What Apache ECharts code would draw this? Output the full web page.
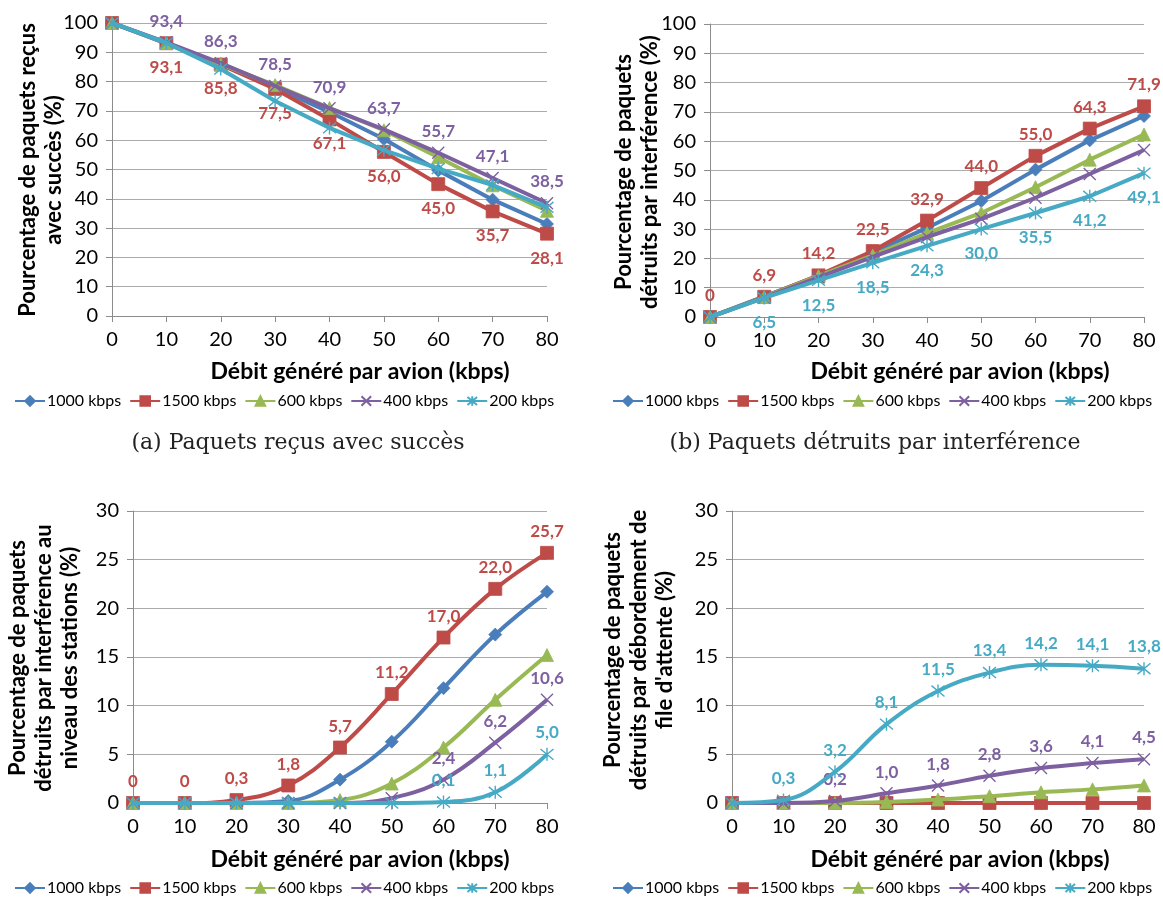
<!DOCTYPE html>
<html><head><meta charset="utf-8">
<script src="https://cdn.jsdelivr.net/npm/echarts@6/dist/echarts.min.js"></script>
<style>html,body{margin:0;padding:0;background:#fff}#c{width:1163px;height:900px}</style>
</head><body><div id="c"></div>
<script>
// ---- data ----
const xValues = [0, 10, 20, 30, 40, 50, 60, 70, 80];
const seriesNames = ['1000 kbps', '1500 kbps', '600 kbps', '400 kbps', '200 kbps'];

// (a) Paquets reçus avec succès (%)
const recu1000 = [100, 93.0, 86.0, 78.0, 69.6, 60.4, 49.7, 39.7, 31.4];
const recu1500 = [100, 93.1, 85.8, 77.5, 67.1, 56.0, 45.0, 35.7, 28.1];
const recu600  = [100, 93.2, 86.0, 78.8, 71.0, 63.4, 54.2, 44.6, 35.9];
const recu400  = [100, 93.4, 86.3, 78.5, 70.9, 63.7, 55.7, 47.1, 38.5];
const recu200  = [100, 93.2, 84.3, 73.4, 64.2, 56.6, 50.3, 44.7, 37.1];

// (b) Paquets détruits par interférence (%)
const interf1000 = [0, 7.0, 14.0, 22.0, 30.4, 39.6, 50.3, 60.3, 68.6];
const interf1500 = [0, 6.9, 14.2, 22.5, 32.9, 44.0, 55.0, 64.3, 71.9];
const interf600  = [0, 6.8, 14.0, 21.0, 28.6, 35.5, 44.3, 53.7, 62.3];
const interf400  = [0, 6.6, 13.5, 20.5, 27.3, 33.5, 40.7, 48.8, 57.0];
const interf200  = [0, 6.5, 12.5, 18.5, 24.3, 30.0, 35.5, 41.2, 49.1];

// (c) Paquets détruits par interférence au niveau des stations (%)
const stat1000 = [0, 0, 0, 0.2, 2.4, 6.3, 11.8, 17.3, 21.7];
const stat1500 = [0, 0, 0.3, 1.8, 5.7, 11.2, 17.0, 22.0, 25.7];
const stat600  = [0, 0, 0, 0, 0.3, 2.0, 5.7, 10.6, 15.2];
const stat400  = [0, 0, 0, 0, 0, 0.5, 2.4, 6.2, 10.6];
const stat200  = [0, 0, 0, 0, 0, 0, 0.1, 1.1, 5.0];

// (d) Paquets détruits par débordement de file d'attente (%)
const file1000 = [0, 0, 0, 0, 0, 0, 0, 0, 0];
const file1500 = [0, 0, 0, 0, 0, 0, 0, 0, 0];
const file600  = [0, 0, 0, 0.1, 0.35, 0.7, 1.1, 1.4, 1.8];
const file400  = [0, 0, 0.2, 1.0, 1.8, 2.8, 3.6, 4.1, 4.5];
const file200  = [0, 0.3, 3.2, 8.1, 11.5, 13.4, 14.2, 14.1, 13.8];

const xTitle = 'Débit généré par avion (kbps)';
const yTitles = [
  'Pourcentage de paquets reçus\navec succès (%)',
  'Pourcentage de paquets\ndétruits par interférence (%)',
  'Pourcentage de paquets\ndétruits par interférence au\nniveau des stations (%)',
  'Pourcentage de paquets\ndétruits par débordement de\nfile d\'attente (%)'
];
const captions = ['(a) Paquets reçus avec succès', '(b) Paquets détruits par interférence'];

// ---- styling ----
const FONT = 'Lato';
const colors = ['#4A7EBB', '#BE4B48', '#98B954', '#7D60A0', '#46AAC5'];
const labelColors = ['#4A7EBB', '#BE4B48', '#98B954', '#7D60A0', '#46AAC5'];
const symbols = ['diamond', 'rect', 'triangle',
  'path://M0,0L10,10M10,0L0,10',
  'path://M0,0L10,10M10,0L0,10M5,-1L5,11'];
const symbolSizes = [13, 13, 13, 12, 13];

const grids = [
  {left: 112, top: 23, width: 435, height: 293},
  {left: 710, top: 24, width: 434, height: 293},
  {left: 133, top: 511, width: 414, height: 292},
  {left: 732, top: 511, width: 412, height: 292}
];
const yMax = [100, 100, 30, 30];
const yInt = [10, 10, 5, 5];
const smooth = [false, false, true, true];

const datasets = [
  [recu1000, recu1500, recu600, recu400, recu200],
  [interf1000, interf1500, interf600, interf400, interf200],
  [stat1000, stat1500, stat600, stat400, stat200],
  [file1000, file1500, file600, file400, file200]
];
// label config: [chart][series] -> {pos, from}
const labelCfg = [
  {1: {pos: 'bottom', from: 1}, 3: {pos: 'top', from: 1}},
  {1: {pos: 'top', from: 0}, 4: {pos: 'bottom', from: 1}},
  {1: {pos: 'top', from: 0}, 3: {pos: 'top', from: 6}, 4: {pos: 'top', from: 6}},
  {4: {pos: 'top', from: 1}, 3: {pos: 'top', from: 2}}
];

function fmt(v) { return v === 0 ? '0' : v.toFixed(1).replace('.', ','); }

const series = [];
datasets.forEach((sets, g) => {
  sets.forEach((vals, s) => {
    const lc = labelCfg[g][s];
    const isPath = s >= 3;
    series.push({
      type: 'line', name: seriesNames[s], xAxisIndex: g, yAxisIndex: g,
      data: xValues.map((x, i) => [x, vals[i]]),
      smooth: smooth[g] ? 0.4 : false,
      symbol: symbols[s], symbolSize: symbolSizes[s], showAllSymbol: true,
      lineStyle: {color: colors[s], width: 4},
      itemStyle: isPath ? {color: colors[s], borderColor: colors[s], borderWidth: 1.4}
                        : {color: colors[s], borderColor: colors[s], borderWidth: 0.8},
      label: lc ? {
        show: true, position: lc.pos, distance: lc.pos === 'top' ? 6 : 9,
        color: labelColors[s], fontFamily: FONT, fontWeight: 'bold', fontSize: 17,
        formatter: p => p.dataIndex >= lc.from ? fmt(p.value[1]) : ''
      } : {show: false},
      emphasis: {disabled: true},
      z: 2 + s
    });
  });
});

const xAxes = grids.map((g, i) => ({
  type: 'value', gridIndex: i, min: 0, max: 80, interval: 10,
  axisLine: {show: true, lineStyle: {color: '#8C8C8C', width: 1}},
  axisTick: {show: true, length: 6, lineStyle: {color: '#8C8C8C'}},
  splitLine: {show: false},
  axisLabel: {color: '#000', fontFamily: FONT, fontSize: 20, margin: 14}
}));
const yAxes = grids.map((g, i) => ({
  type: 'value', gridIndex: i, min: 0, max: yMax[i], interval: yInt[i],
  axisLine: {show: true, lineStyle: {color: '#8C8C8C', width: 1}},
  axisTick: {show: true, length: 6, lineStyle: {color: '#8C8C8C'}},
  splitLine: {show: true, lineStyle: {color: '#ABABAB', width: 1}},
  axisLabel: {color: '#000', fontFamily: FONT, fontSize: 20, margin: 14}
}));

const legendPos = [
  {left: 14, top: 393}, {left: 612, top: 393},
  {left: 14, top: 880}, {left: 612, top: 880}
];
const legends = legendPos.map(p => ({
  left: p.left, top: p.top, data: seriesNames, itemWidth: 30, itemHeight: 12,
  itemGap: 8, textStyle: {fontFamily: FONT, fontSize: 16, color: '#000', padding: [0, 0, 0, -3]}, padding: 0
}));

const yTitlePos = [[41, 170], [637, 172], [44, 658], [639, 650]];
const xTitlePos = [[360, 372], [960, 372], [360, 860], [960, 860]];
const captionPos = [[298, 443], [875, 443]];
const graphic = [];
yTitles.forEach((t, i) => graphic.push({
  type: 'text', x: yTitlePos[i][0], y: yTitlePos[i][1], rotation: Math.PI / 2,
  style: {text: t, font: 'bold 22px ' + FONT, fill: '#000', align: 'center', verticalAlign: 'middle', lineHeight: 26}
}));
xTitlePos.forEach(p => graphic.push({
  type: 'text', x: p[0], y: p[1],
  style: {text: xTitle, font: 'bold 23px ' + FONT, fill: '#000', align: 'center', verticalAlign: 'middle'}
}));
captions.forEach((t, i) => graphic.push({
  type: 'text', x: captionPos[i][0], y: captionPos[i][1],
  style: {text: t, font: '22px "DejaVu Serif"', fill: '#222', align: 'center', verticalAlign: 'middle'}
}));

const chart = echarts.init(document.getElementById('c'));
chart.setOption({
  animation: false,
  backgroundColor: '#fff',
  grid: grids,
  xAxis: xAxes, yAxis: yAxes,
  legend: legends,
  series: series,
  graphic: graphic
});
</script></body></html>
